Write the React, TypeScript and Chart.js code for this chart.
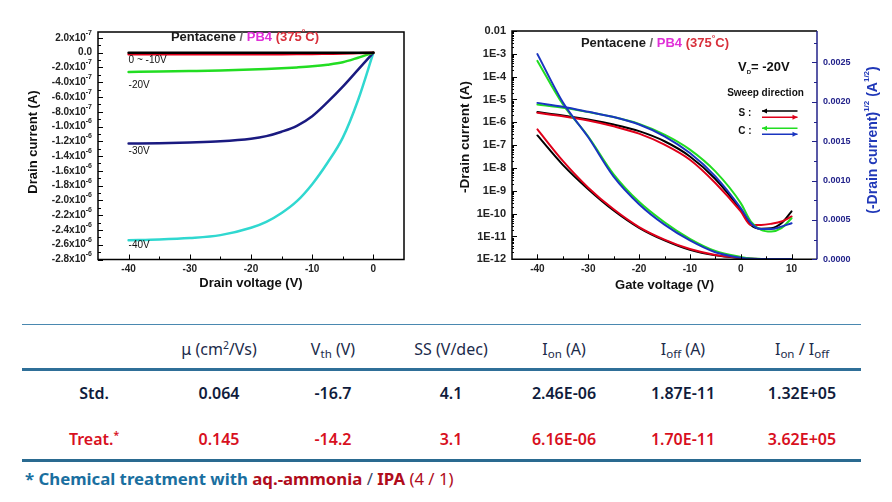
import React, { useEffect, useRef } from 'react';
import { Chart, registerables } from 'chart.js';
Chart.register(...registerables);

const FONT = '"Liberation Sans", Arial, Helvetica, sans-serif';
const TFONT = '"Noto Sans", "Open Sans", sans-serif';

// ---------- Output characteristics (left chart) ----------
const outVd = [-40, -35, -30, -25, -20, -17.5, -15, -12.5, -10, -7.5, -5, -2.5, 0];
const outId0 = [0, 0, 0, 0, 0, 0, 0, 0, 0, 0, 0, 0, 0];
const outId10 = [-2.2e-8, -2.2e-8, -2.2e-8, -2.1e-8, -2.1e-8, -2.05e-8, -2.0e-8, -1.9e-8, -1.8e-8, -1.5e-8, -1.2e-8, -0.6e-8, 0];
const outId20 = [-2.6e-7, -2.55e-7, -2.48e-7, -2.4e-7, -2.28e-7, -2.21e-7, -2.12e-7, -2.0e-7, -1.85e-7, -1.63e-7, -1.3e-7, -0.68e-7, 0];
const outId30 = [-1.23e-6, -1.225e-6, -1.215e-6, -1.2e-6, -1.165e-6, -1.13e-6, -1.07e-6, -0.99e-6, -0.86e-6, -0.67e-6, -0.46e-6, -0.23e-6, 0];
const outId40 = [-2.54e-6, -2.53e-6, -2.51e-6, -2.47e-6, -2.37e-6, -2.29e-6, -2.17e-6, -2.01e-6, -1.78e-6, -1.49e-6, -1.15e-6, -0.64e-6, 0];
const outCurveLabels = ['0 ~ -10V', '-20V', '-30V', '-40V'];
const outCurveLabelY = [-1.07e-7, -4.4e-7, -1.34e-6, -2.61e-6];
const outYTicks = [2e-7, 0, -2e-7, -4e-7, -6e-7, -8e-7, -1.0e-6, -1.2e-6, -1.4e-6, -1.6e-6, -1.8e-6, -2.0e-6, -2.2e-6, -2.4e-6, -2.6e-6, -2.8e-6];
const outXTicks = [-40, -30, -20, -10, 0];
const outXMinor = [-35, -25, -15, -5];

// ---------- Transfer characteristics (right chart) ----------
const tfVg = [-40, -35, -30, -25, -20, -15, -10, -5, 0, 2, 4, 6, 8, 10];
// -Id (A), log axis
const logBlack = [2.8e-6, 2.0e-6, 1.32e-6, 8.0e-7, 4.1e-7, 1.48e-7, 3.2e-8, 3.3e-9, 1.47e-10, 3.2e-11, 2.2e-11, 2.3e-11, 3.8e-11, 1.25e-10];
const logRed = [2.6e-6, 1.85e-6, 1.2e-6, 6.7e-7, 3.2e-7, 1.05e-7, 2.3e-8, 2.2e-9, 1.25e-10, 3.2e-11, 3.2e-11, 3.6e-11, 4.5e-11, 7.5e-11];
const logGreen = [6.0e-6, 4.3e-6, 2.8e-6, 1.7e-6, 8.5e-7, 2.9e-7, 6.4e-8, 7.1e-9, 2.9e-10, 4.5e-11, 1.95e-11, 1.65e-11, 2.3e-11, 6.3e-11];
const logBlue = [7.1e-6, 4.8e-6, 2.9e-6, 1.7e-6, 8.0e-7, 2.45e-7, 4.5e-8, 4.3e-9, 1.75e-10, 3.8e-11, 2.1e-11, 2.1e-11, 2.7e-11, 3.8e-11];
// (-Id)^1/2 (A^1/2), right axis
const sqrtBlack = [1.573e-3, 1.2e-3, 0.89e-3, 0.62e-3, 0.4e-3, 0.24e-3, 0.12e-3, 0.05e-3, 0.015e-3, 0.006e-3, 0.004e-3, 0.003e-3, 0.003e-3, 0.003e-3];
const sqrtRed = [1.65e-3, 1.25e-3, 0.91e-3, 0.635e-3, 0.41e-3, 0.25e-3, 0.13e-3, 0.055e-3, 0.018e-3, 0.008e-3, 0.005e-3, 0.004e-3, 0.004e-3, 0.004e-3];
const sqrtGreen = [2.52e-3, 1.97e-3, 1.56e-3, 1.08e-3, 0.73e-3, 0.47e-3, 0.26e-3, 0.105e-3, 0.03e-3, 0.01e-3, 0.005e-3, 0.004e-3, 0.004e-3, 0.004e-3];
const sqrtBlue = [2.606e-3, 1.995e-3, 1.55e-3, 1.05e-3, 0.7e-3, 0.44e-3, 0.24e-3, 0.09e-3, 0.02e-3, 0.006e-3, 0.004e-3, 0.003e-3, 0.003e-3, 0.003e-3];
const tfXTicks = [-40, -30, -20, -10, 0, 10];
const tfXMinor = [-35, -25, -15, -5, 5];
const tfLogTicks = [1e-2, 1e-3, 1e-4, 1e-5, 1e-6, 1e-7, 1e-8, 1e-9, 1e-10, 1e-11, 1e-12];
const tfLogLabels = ['0.01', '1E-3', '1E-4', '1E-5', '1E-6', '1E-7', '1E-8', '1E-9', '1E-10', '1E-11', '1E-12'];
const tfSqrtTicks = [0, 0.0005, 0.001, 0.0015, 0.002, 0.0025];

// ---------- Table ----------
const colX = [94, 219, 333, 451, 564, 683, 802];
const headerCells: [string, string][][] = [
  [],
  [['μ (cm', ''], ['2', 'sup'], ['/Vs)', '']],
  [['V', ''], ['th', 'sub'], [' (V)', '']],
  [['SS (V/dec)', '']],
  [['I', ''], ['on', 'sub'], [' (A)', '']],
  [['I', ''], ['off', 'sub'], [' (A)', '']],
  [['I', ''], ['on', 'sub'], [' / I', ''], ['off', 'sub']],
];
const stdRow = ['Std.', '0.064', '-16.7', '4.1', '2.46E-06', '1.87E-11', '1.32E+05'];
const treatRow = ['Treat.', '0.145', '-14.2', '3.1', '6.16E-06', '1.70E-11', '3.62E+05'];

const BLACK = '#000000';
const RED = '#e0001a';
const GREEN = '#22dd22';
const NAVY = '#1a1a80';
const CYAN = '#30d8d0';
const BLUE = '#1a35c0';
const AXISBLUE = '#22228a';

type Seg = { t: string; c: string; f: string; dy?: number };

function drawSegs(ctx: CanvasRenderingContext2D, segs: Seg[], x: number, y: number, align: string) {
  ctx.save();
  ctx.textBaseline = 'middle';
  ctx.textAlign = 'left';
  let total = 0;
  const ws = segs.map((s) => {
    ctx.font = s.f;
    const w = ctx.measureText(s.t).width;
    total += w;
    return w;
  });
  let cx = align === 'left' ? x : align === 'center' ? x - total / 2 : x - total;
  segs.forEach((s, i) => {
    ctx.font = s.f;
    ctx.fillStyle = s.c;
    ctx.fillText(s.t, cx, y + (s.dy || 0));
    cx += ws[i];
  });
  ctx.restore();
}

function drawRotated(ctx: CanvasRenderingContext2D, segs: Seg[], x: number, y: number) {
  ctx.save();
  ctx.translate(x, y);
  ctx.rotate(-Math.PI / 2);
  drawSegs(ctx, segs, 0, 0, 'center');
  ctx.restore();
}

function inwardTicks(ctx: CanvasRenderingContext2D, chart: any, axisId: string, side: string, values: number[], len: number, color: string) {
  const s = chart.scales[axisId];
  const ca = chart.chartArea;
  ctx.save();
  ctx.strokeStyle = color;
  ctx.lineWidth = 1;
  values.forEach((v) => {
    const p = Math.round(s.getPixelForValue(v)) + 0.5;
    ctx.beginPath();
    if (side === 'bottom') {
      ctx.moveTo(p, ca.bottom);
      ctx.lineTo(p, ca.bottom - len);
    } else if (side === 'left') {
      ctx.moveTo(ca.left, p);
      ctx.lineTo(ca.left + len, p);
    } else {
      ctx.moveTo(ca.right, p);
      ctx.lineTo(ca.right - len, p);
    }
    ctx.stroke();
  });
  ctx.restore();
}

function midpoints(arr: number[]) {
  const out: number[] = [];
  for (let i = 0; i < arr.length - 1; i++) out.push((arr[i] + arr[i + 1]) / 2);
  return out;
}

function logMinors(arr: number[]) {
  const out: number[] = [];
  arr.forEach((d) => {
    for (let k = 2; k <= 9; k++) if (d * k < arr[0]) out.push(d * k);
  });
  return out;
}

function titleSegs(): Seg[] {
  const f = `bold 13px ${FONT}`;
  return [
    { t: 'Pentacene', c: '#1a1a1a', f },
    { t: ' / ', c: '#666666', f },
    { t: 'PB4', c: '#e030d8', f },
    { t: ' (375', c: '#d8303c', f },
    { t: '°', c: '#d8303c', f: `bold 9px ${FONT}`, dy: -4 },
    { t: 'C)', c: '#d8303c', f },
  ];
}

const leftPlugin = {
  id: 'leftDeco',
  afterDraw(chart: any) {
    const ctx: CanvasRenderingContext2D = chart.ctx;
    const ca = chart.chartArea;
    const xs = chart.scales.x;
    const ys = chart.scales.y;
    ctx.save();
    ctx.strokeStyle = '#000';
    ctx.lineWidth = 1.5;
    ctx.strokeRect(ca.left, ca.top, ca.right - ca.left, ca.bottom - ca.top);
    ctx.restore();
    inwardTicks(ctx, chart, 'x', 'bottom', outXTicks, 5, '#000');
    inwardTicks(ctx, chart, 'x', 'bottom', outXMinor, 3, '#000');
    inwardTicks(ctx, chart, 'y', 'left', outYTicks, 5, '#000');
    inwardTicks(ctx, chart, 'y', 'left', midpoints(outYTicks), 3, '#000');
    // y tick labels with superscripts
    ctx.save();
    ctx.fillStyle = '#222';
    ctx.textBaseline = 'middle';
    ctx.textAlign = 'right';
    outYTicks.forEach((v) => {
      const py = ys.getPixelForValue(v);
      const xr = ca.left - 6;
      ctx.font = `bold 10px ${FONT}`;
      if (v === 0) {
        ctx.fillText('0.0', xr, py);
        return;
      }
      const e = Math.abs(v) >= 1e-6 - 1e-12 ? -6 : -7;
      const m = (v / Math.pow(10, e)).toFixed(1);
      ctx.font = `bold 7px ${FONT}`;
      const sup = String(e);
      const sw = ctx.measureText(sup).width;
      ctx.fillText(sup, xr, py - 5);
      ctx.font = `bold 10px ${FONT}`;
      ctx.fillText(m + 'x10', xr - sw, py);
    });
    ctx.restore();
    // axis titles
    drawRotated(ctx, [{ t: 'Drain current (A)', c: '#111', f: `bold 13px ${FONT}` }], 33, 142);
    drawSegs(ctx, [{ t: 'Drain voltage (V)', c: '#111', f: `bold 13px ${FONT}` }], (ca.left + ca.right) / 2, 283.5, 'center');
    // title
    drawSegs(ctx, titleSegs(), 245, 37, 'center');
    // curve labels
    outCurveLabels.forEach((lab, i) => {
      drawSegs(ctx, [{ t: lab, c: '#111', f: `10px ${FONT}` }], xs.getPixelForValue(-40), ys.getPixelForValue(outCurveLabelY[i]), 'left');
    });
  },
};

function arrow(ctx: CanvasRenderingContext2D, x1: number, x2: number, y: number, color: string, headLeft: boolean) {
  ctx.save();
  ctx.strokeStyle = color;
  ctx.fillStyle = color;
  ctx.lineWidth = 1.5;
  ctx.beginPath();
  ctx.moveTo(x1, y);
  ctx.lineTo(x2, y);
  ctx.stroke();
  const hx = headLeft ? x1 : x2;
  const d = headLeft ? 1 : -1;
  ctx.beginPath();
  ctx.moveTo(hx, y);
  ctx.lineTo(hx + d * 5, y - 2.5);
  ctx.lineTo(hx + d * 5, y + 2.5);
  ctx.closePath();
  ctx.fill();
  ctx.restore();
}

const rightPlugin = {
  id: 'rightDeco',
  afterDraw(chart: any) {
    const ctx: CanvasRenderingContext2D = chart.ctx;
    const ca = chart.chartArea;
    ctx.save();
    ctx.lineWidth = 1.5;
    ctx.strokeStyle = '#000';
    ctx.beginPath();
    ctx.moveTo(ca.right, ca.top);
    ctx.lineTo(ca.left, ca.top);
    ctx.lineTo(ca.left, ca.bottom);
    ctx.lineTo(ca.right, ca.bottom);
    ctx.stroke();
    ctx.strokeStyle = AXISBLUE;
    ctx.beginPath();
    ctx.moveTo(ca.right, ca.top);
    ctx.lineTo(ca.right, ca.bottom);
    ctx.stroke();
    ctx.restore();
    inwardTicks(ctx, chart, 'x', 'bottom', tfXTicks, 5, '#000');
    inwardTicks(ctx, chart, 'x', 'bottom', tfXMinor, 3, '#000');
    inwardTicks(ctx, chart, 'y', 'left', tfLogTicks, 5, '#000');
    inwardTicks(ctx, chart, 'y', 'left', logMinors(tfLogTicks), 2, '#000');
    inwardTicks(ctx, chart, 'y2', 'right', tfSqrtTicks, 5, AXISBLUE);
    inwardTicks(ctx, chart, 'y2', 'right', midpoints(tfSqrtTicks.concat([0.003])), 3, AXISBLUE);
    // axis titles
    drawRotated(ctx, [{ t: '-Drain current (A)', c: '#111', f: `bold 13.5px ${FONT}` }], 35, 137);
    drawSegs(ctx, [{ t: 'Gate voltage (V)', c: '#111', f: `bold 13px ${FONT}` }], (ca.left + ca.right) / 2, 285, 'center');
    const bf = `bold 14px ${FONT}`;
    const sf = `bold 8px ${FONT}`;
    drawRotated(
      ctx,
      [
        { t: '(-Drain current)', c: '#2038b8', f: bf },
        { t: '1/2', c: '#2038b8', f: sf, dy: -6 },
        { t: ' (A', c: '#2038b8', f: bf },
        { t: '1/2', c: '#2038b8', f: sf, dy: -6 },
        { t: ')', c: '#2038b8', f: bf },
      ],
      443,
      140
    );
    // title
    drawSegs(ctx, titleSegs(), ca.left + 143, 43, 'center');
    // V_D
    drawSegs(
      ctx,
      [
        { t: 'V', c: '#111', f: `bold 13px ${FONT}` },
        { t: 'D', c: '#111', f: `bold 6px ${FONT}`, dy: 5 },
        { t: '= -20V', c: '#111', f: `bold 13px ${FONT}` },
      ],
      ca.right - 79,
      67,
      'left'
    );
    drawSegs(ctx, [{ t: 'Sweep direction', c: '#111', f: `bold 10px ${FONT}` }], ca.right - 51.5, 93.5, 'center');
    drawSegs(ctx, [{ t: 'S :', c: '#111', f: `bold 10px ${FONT}` }], ca.right - 72, 113, 'center');
    drawSegs(ctx, [{ t: 'C :', c: '#111', f: `bold 10px ${FONT}` }], ca.right - 72, 131, 'center');
    arrow(ctx, ca.right - 55, ca.right - 19.5, 111, BLACK, true);
    arrow(ctx, ca.right - 55, ca.right - 19.5, 117.3, RED, false);
    arrow(ctx, ca.right - 55, ca.right - 19.5, 128.3, GREEN, true);
    arrow(ctx, ca.right - 55, ca.right - 19.5, 134.3, BLUE, false);
  },
};

function mk(xs: number[], ys: number[], color: string, width: number, axis?: string) {
  const d: any = {
    data: xs.map((x, i) => ({ x, y: ys[i] })),
    borderColor: color,
    backgroundColor: color,
    borderWidth: width,
    pointRadius: 0,
    fill: false,
    cubicInterpolationMode: 'monotone',
    borderJoinStyle: 'round',
    borderCapStyle: 'round',
  };
  if (axis) d.yAxisID = axis;
  return d;
}

function Cell({ segs, x, y, color, weight, size }: any) {
  return (
    <div
      style={{
        position: 'absolute',
        left: x - 80,
        top: y - 13,
        width: 160,
        height: 26,
        lineHeight: '26px',
        textAlign: 'center',
        whiteSpace: 'nowrap',
        fontFamily: TFONT,
        fontSize: size,
        fontWeight: weight,
        color,
      }}
    >
      {segs.map((s: [string, string], i: number) =>
        s[1] === 'sup' ? (
          <sup key={i} style={{ fontSize: '0.65em', verticalAlign: '0.55em', lineHeight: 0 }}>{s[0]}</sup>
        ) : s[1] === 'sub' ? (
          <sub key={i} style={{ fontSize: '0.72em', verticalAlign: '-0.3em', lineHeight: 0 }}>{s[0]}</sub>
        ) : (
          <span key={i}>{s[0]}</span>
        )
      )}
    </div>
  );
}

const noTickMarks = { display: false, drawTicks: false };

export default function App() {
  const leftRef = useRef<HTMLCanvasElement>(null);
  const rightRef = useRef<HTMLCanvasElement>(null);

  useEffect(() => {
    const left = new Chart(leftRef.current as HTMLCanvasElement, {
      type: 'line',
      data: {
        datasets: [
          mk(outVd, outId0, BLACK, 2.5),
          mk(outVd, outId10, RED, 2.5),
          mk(outVd, outId20, GREEN, 2.5),
          mk(outVd, outId30, NAVY, 2.5),
          mk(outVd, outId40, CYAN, 2.5),
        ],
      },
      options: {
        animation: false,
        responsive: false,
        devicePixelRatio: 1,
        layout: { padding: { left: 0, right: 21, top: 32, bottom: 0 } },
        plugins: { legend: { display: false }, tooltip: { enabled: false } },
        scales: {
          x: {
            type: 'linear',
            min: -45,
            max: 5,
            grid: noTickMarks,
            border: { display: false },
            afterBuildTicks: (s: any) => {
              s.ticks = outXTicks.map((v) => ({ value: v }));
            },
            afterFit: (s: any) => {
              s.height = 40.5;
            },
            ticks: {
              padding: 4,
              autoSkip: false,
              maxRotation: 0,
              color: '#222',
              font: { size: 10, weight: 'bold', family: FONT },
              callback: (v: any) => String(v),
            },
          },
          y: {
            type: 'linear',
            min: -2.8e-6,
            max: 0.28e-6,
            grid: noTickMarks,
            border: { display: false },
            ticks: { display: false },
            afterFit: (s: any) => {
              s.width = 98;
            },
          },
        },
      } as any,
      plugins: [leftPlugin],
    });

    const right = new Chart(rightRef.current as HTMLCanvasElement, {
      type: 'line',
      data: {
        datasets: [
          mk(tfVg, sqrtBlue, BLUE, 2, 'y2'),
          mk(tfVg, logBlue, BLUE, 2, 'y'),
          mk(tfVg, sqrtGreen, GREEN, 2, 'y2'),
          mk(tfVg, logGreen, GREEN, 2, 'y'),
          mk(tfVg, sqrtRed, RED, 2, 'y2'),
          mk(tfVg, logRed, RED, 2, 'y'),
          mk(tfVg, sqrtBlack, BLACK, 2, 'y2'),
          mk(tfVg, logBlack, BLACK, 2, 'y'),
        ],
      },
      options: {
        animation: false,
        responsive: false,
        devicePixelRatio: 1,
        layout: { padding: { left: 0, right: 0, top: 31, bottom: 0 } },
        plugins: { legend: { display: false }, tooltip: { enabled: false } },
        scales: {
          x: {
            type: 'linear',
            min: -45,
            max: 15,
            grid: noTickMarks,
            border: { display: false },
            afterBuildTicks: (s: any) => {
              s.ticks = tfXTicks.map((v) => ({ value: v }));
            },
            afterFit: (s: any) => {
              s.height = 40.7;
            },
            ticks: {
              padding: 4,
              autoSkip: false,
              maxRotation: 0,
              color: '#222',
              font: { size: 10, weight: 'bold', family: FONT },
              callback: (v: any) => String(v),
            },
          },
          y: {
            type: 'logarithmic',
            position: 'left',
            min: 1e-12,
            max: 1e-2,
            grid: noTickMarks,
            border: { display: false },
            afterBuildTicks: (s: any) => {
              s.ticks = tfLogTicks.map((v) => ({ value: v }));
            },
            afterFit: (s: any) => {
              s.width = 82;
            },
            ticks: {
              padding: 6,
              autoSkip: false,
              color: '#222',
              font: { size: 11, weight: 'bold', family: FONT },
              callback: (_v: any, i: number) => tfLogLabels[i],
            },
          },
          y2: {
            type: 'linear',
            position: 'right',
            min: 0,
            max: 0.0029,
            grid: noTickMarks,
            border: { display: false },
            afterBuildTicks: (s: any) => {
              s.ticks = tfSqrtTicks.map((v) => ({ value: v }));
            },
            afterFit: (s: any) => {
              s.width = 75;
            },
            ticks: {
              padding: 6,
              autoSkip: false,
              color: AXISBLUE,
              font: { size: 9, weight: 'bold', family: FONT },
              callback: (v: any) => Number(v).toFixed(4),
            },
          },
        },
      } as any,
      plugins: [rightPlugin],
    });

    return () => {
      left.destroy();
      right.destroy();
    };
  }, []);

  const hr = (top: number, h: number, color: string) => (
    <div style={{ position: 'absolute', left: 22, top, width: 839, height: h, background: color }} />
  );

  return (
    <div style={{ position: 'absolute', left: 0, top: 0, width: 892, height: 502, background: '#fff', overflow: 'hidden' }}>
      <canvas ref={leftRef} width={425} height={300} style={{ position: 'absolute', left: 0, top: 0, width: 425, height: 300 }} />
      <canvas ref={rightRef} width={462} height={300} style={{ position: 'absolute', left: 430, top: 0, width: 462, height: 300 }} />
      {hr(323.5, 1.5, '#4a88b0')}
      {hr(368, 2.5, '#2f6f98')}
      {hr(458.5, 3, '#2a6a90')}
      {headerCells.map((segs, i) => (
        <Cell key={'h' + i} segs={segs} x={colX[i]} y={348.5} color="#1c2b4a" weight={400} size={16} />
      ))}
      {stdRow.map((t, i) => (
        <Cell key={'s' + i} segs={[[t, '']]} x={colX[i]} y={392.5} color="#101c3c" weight={600} size={16} />
      ))}
      {treatRow.map((t, i) => (
        <Cell
          key={'t' + i}
          segs={i === 0 ? [[t, ''], ['*', 'sup']] : [[t, '']]}
          x={colX[i]}
          y={438.5}
          color="#d8101e"
          weight={600}
          size={16}
        />
      ))}
      <div
        style={{
          position: 'absolute',
          left: 25,
          top: 466,
          height: 26,
          lineHeight: '26px',
          whiteSpace: 'nowrap',
          fontFamily: TFONT,
          fontSize: 16.8,
          fontWeight: 700,
          color: '#1a6fa0',
        }}
      >
        <span>* Chemical treatment with </span>
        <span style={{ color: '#b00c1c' }}>aq.-ammonia</span>
        <span style={{ color: '#3a4a6a', fontWeight: 400 }}> / </span>
        <span style={{ color: '#b00c1c' }}>IPA </span>
        <span style={{ color: '#b00c1c', fontWeight: 400 }}>(4 / 1)</span>
      </div>
    </div>
  );
}
